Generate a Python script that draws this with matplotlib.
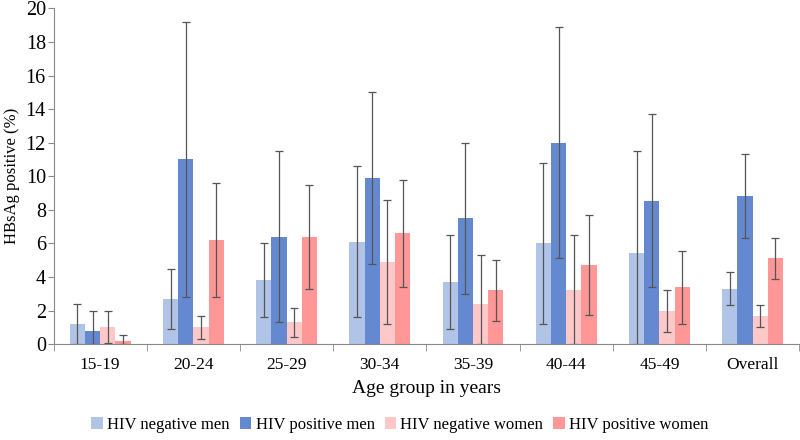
import numpy as np
import matplotlib
matplotlib.use('Agg')
import matplotlib.pyplot as plt

plt.rcParams['font.family'] = ['Liberation Serif', 'DejaVu Serif']

groups = ['15-19', '20-24', '25-29', '30-34', '35-39', '40-44', '45-49', 'Overall']
series = ['HIV negative men', 'HIV positive men', 'HIV negative women', 'HIV positive women']
colors = ['#b0c4e7', '#6489d0', '#ffc8c8', '#ff9797']

# prevalence (%) and 95% CI per series
neg_men = [1.2, 2.7, 3.8, 6.1, 3.7, 6.0, 5.4, 3.3]
neg_men_lo = [0.0, 0.9, 1.6, 1.6, 0.9, 1.2, 0.0, 2.3]
neg_men_hi = [2.4, 4.5, 6.0, 10.6, 6.5, 10.8, 11.5, 4.3]

pos_men = [0.8, 11.0, 6.4, 9.9, 7.5, 12.0, 8.5, 8.8]
pos_men_lo = [0.0, 2.8, 1.3, 4.8, 3.0, 5.1, 3.4, 6.3]
pos_men_hi = [2.0, 19.2, 11.5, 15.0, 12.0, 18.9, 13.7, 11.3]

neg_women = [1.0, 1.0, 1.3, 4.9, 2.4, 3.2, 2.0, 1.7]
neg_women_lo = [0.05, 0.3, 0.45, 1.2, 0.0, 0.0, 0.7, 1.0]
neg_women_hi = [1.95, 1.65, 2.15, 8.6, 5.3, 6.5, 3.25, 2.3]

pos_women = [0.2, 6.2, 6.4, 6.6, 3.2, 4.7, 3.4, 5.1]
pos_women_lo = [0.0, 2.8, 3.3, 3.4, 1.4, 1.75, 1.2, 3.9]
pos_women_hi = [0.55, 9.6, 9.5, 9.8, 5.0, 7.7, 5.55, 6.3]

vals = [neg_men, pos_men, neg_women, pos_women]
los = [neg_men_lo, pos_men_lo, neg_women_lo, pos_women_lo]
his = [neg_men_hi, pos_men_hi, neg_women_hi, pos_women_hi]

fig = plt.figure(figsize=(8, 4.4), dpi=100)
ax = fig.add_axes([0.067, 0.218, 0.932, 0.763])

x = np.arange(len(groups))
w = 0.163
for i in range(4):
    v = np.array(vals[i])
    err = [v - np.array(los[i]), np.array(his[i]) - v]
    pos = x + (i - 1.5) * w
    ax.bar(pos, v, w, color=colors[i], label=series[i])
    ax.errorbar(pos, v, yerr=err, fmt='none', ecolor='#555555',
                elinewidth=0.9, capsize=3, capthick=0.9)

ax.set_xlim(-0.5, len(groups) - 0.5)
ax.set_ylim(0, 20)
ax.set_yticks(range(0, 21, 2))
ax.set_xticks(x)
ax.set_xticklabels(groups)
ax.set_xticks(np.arange(-0.5, len(groups) + 0.5, 1), minor=True)
ax.tick_params(axis='x', which='major', length=0, labelsize=12.5, pad=9)
ax.tick_params(axis='x', which='minor', length=5, color='#888888', direction='out')
ax.tick_params(axis='y', length=4, color='#888888', labelsize=14.5, pad=1.5)

for s in ['top', 'right']:
    ax.spines[s].set_visible(False)
ax.spines['left'].set_color('#888888')
ax.spines['bottom'].set_color('#888888')

ax.set_xlabel('Age group in years', fontsize=14, labelpad=5)
ax.set_ylabel('HBsAg positive (%)', fontsize=12, labelpad=4)

fig.legend(loc='center', bbox_to_anchor=(0.5, 0.035), ncol=4, frameon=False,
           fontsize=12, handlelength=0.7, handleheight=0.7,
           handletextpad=0.25, columnspacing=0.6)

plt.savefig('out.png', dpi=100)
plt.close()
